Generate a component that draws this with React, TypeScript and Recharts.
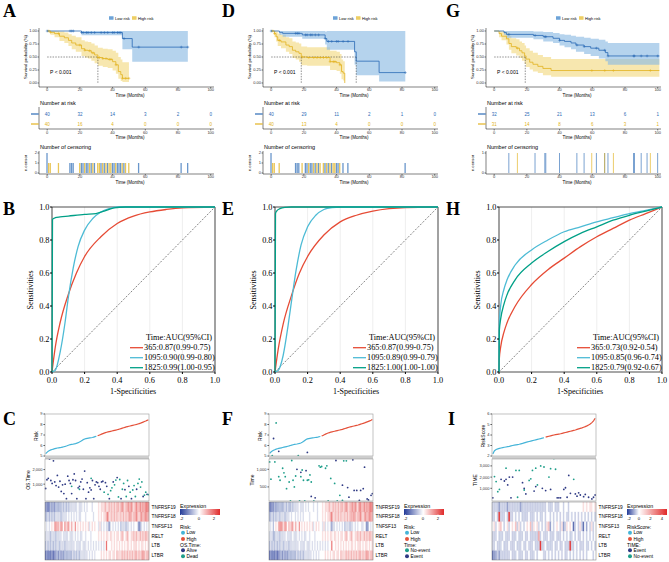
import React from "react";
import {
  ComposedChart, BarChart, Line, Area, Bar, Scatter, Cell, XAxis, YAxis,
  CartesianGrid, ReferenceLine, ReferenceArea,
} from "recharts";

const SANS = "Liberation Sans, Arial, sans-serif";
const SERIF = "Liberation Serif, Times New Roman, serif";

const BLUE = "#2a6ab5";
const BLUE_FILL = "#8dbbe4";
const GOLD = "#e2b320";
const GOLD_FILL = "#f2da84";
const RED = "#E64B35";
const CYAN = "#4DBBD5";
const TEAL = "#00A087";
const R_CYAN = "#45b4d8";
const R_RED = "#e4513a";
const NAVY = "#2f3a84";
const SEA = "#1e9e8a";

// ---------- KM curves: [months, survival], CI: [months, lower, upper]
const TIME_TICKS = [0, 20, 40, 60, 80, 100];

const A_LOW = [[0, 1], [21, 0.97], [46, 0.855], [52, 0.69], [86, 0.69]];
const A_LOW_CI = [[0, 1, 1], [21, 0.92, 1], [46, 0.65, 1], [52, 0.41, 1], [86, 0.41, 1]];
const A_HIGH = [[0, 1], [2, 0.975], [4.5, 0.95], [7.5, 0.9], [10.5, 0.87], [13, 0.82], [15, 0.77], [17.5, 0.73], [21, 0.66], [23, 0.63], [25, 0.62], [27, 0.58], [29, 0.54], [31, 0.49], [34, 0.47], [37, 0.455], [40, 0.41], [42, 0.35], [43.5, 0.22], [45, 0.16], [46, 0.09], [50, 0.09]];
const A_HIGH_CI = [[0, 1, 1], [2, 0.93, 1], [4.5, 0.88, 1], [7.5, 0.81, 0.99], [10.5, 0.77, 0.97], [13, 0.71, 0.94], [15, 0.65, 0.91], [17.5, 0.6, 0.88], [21, 0.52, 0.82], [23, 0.49, 0.8], [25, 0.47, 0.79], [27, 0.43, 0.76], [29, 0.38, 0.72], [31, 0.33, 0.68], [34, 0.31, 0.66], [37, 0.29, 0.65], [40, 0.24, 0.62], [42, 0.18, 0.58], [43.5, 0.08, 0.5], [45, 0.04, 0.45], [46, 0.02, 0.4], [50, 0.02, 0.4]];
const A_CENS_LOW = [[0, 2], [14, 1], [15, 1], [16, 1], [21, 1], [22, 1], [24, 1], [25, 1], [27, 1], [29, 1], [33, 1], [35, 1], [37, 1], [40, 1], [41, 1], [43, 1], [44, 1], [45, 1], [47, 1], [56, 1], [82, 1], [86, 1]];
const A_CENS_HIGH = [[1, 1], [2, 1], [7, 1], [20, 1], [23, 1], [26, 1], [28, 1], [31, 1], [32, 1], [34, 1], [36, 1], [38, 1], [39, 1], [42, 1], [46, 1], [48, 1], [50, 1]];
const A_RISK_LOW = [40, 32, 14, 3, 2, 0];
const A_RISK_HIGH = [40, 16, 4, 0, 0, 0];
const A_MED = [31];

const D_LOW = [[0, 1], [5, 0.975], [7, 0.955], [19, 0.925], [33, 0.855], [34, 0.8], [51, 0.6], [52, 0.42], [66, 0.2], [82, 0.2]];
const D_LOW_CI = [[0, 1, 1], [5, 0.93, 1], [7, 0.89, 1], [19, 0.85, 1], [33, 0.74, 0.99], [34, 0.64, 1], [51, 0.35, 1], [52, 0.15, 1], [66, 0.03, 1], [82, 0.03, 1]];
const D_HIGH = [[0, 1], [2, 0.95], [3, 0.89], [4, 0.82], [6, 0.79], [9, 0.73], [11, 0.7], [13, 0.63], [15, 0.6], [17, 0.57], [18.4, 0.5], [22, 0.49], [36, 0.41], [40, 0.39], [42, 0.35], [43, 0.22], [44, 0.19], [45, 0]];
const D_HIGH_CI = [[0, 1, 1], [2, 0.88, 1], [3, 0.8, 0.99], [4, 0.71, 0.95], [6, 0.67, 0.93], [9, 0.6, 0.88], [11, 0.56, 0.86], [13, 0.48, 0.8], [15, 0.45, 0.78], [17, 0.41, 0.76], [18.4, 0.34, 0.7], [22, 0.33, 0.69], [36, 0.25, 0.62], [40, 0.23, 0.6], [42, 0.18, 0.56], [43, 0.07, 0.45], [44, 0.05, 0.42], [45, 0, 0.42]];
const D_CENS_LOW = [[0, 2], [15, 1], [16, 1], [17, 1], [21, 1], [22, 1], [24, 1], [25, 1], [27, 1], [29, 1], [33, 1], [35, 1], [37, 1], [40, 1], [41, 1], [44, 1], [47, 1], [82, 1]];
const D_CENS_HIGH = [[1, 1], [2, 1], [5, 1], [19, 1], [23, 1], [26, 1], [28, 1], [30, 1], [32, 1], [34, 1], [36, 1], [38, 1], [39, 1], [42, 1]];
const D_RISK_LOW = [40, 29, 11, 2, 1, 0];
const D_RISK_HIGH = [40, 13, 4, 0, 0, 0];
const D_MED = [18.4, 52];

const G_LOW = [[0, 1], [6, 0.97], [7.5, 0.935], [24, 0.915], [30, 0.89], [36, 0.86], [40, 0.82], [43, 0.8], [47, 0.77], [50, 0.73], [55, 0.7], [59, 0.67], [64, 0.63], [68, 0.585], [69.5, 0.52], [101, 0.52]];
const G_LOW_CI = [[0, 1, 1], [6, 0.93, 1], [7.5, 0.87, 1], [24, 0.84, 0.99], [30, 0.8, 0.98], [36, 0.77, 0.96], [40, 0.72, 0.94], [43, 0.69, 0.93], [47, 0.65, 0.91], [50, 0.6, 0.89], [55, 0.56, 0.87], [59, 0.52, 0.85], [64, 0.47, 0.83], [68, 0.42, 0.8], [69.5, 0.35, 0.77], [101, 0.35, 0.77]];
const G_HIGH = [[0, 1], [3, 0.95], [4.5, 0.9], [7.5, 0.85], [9, 0.76], [10.5, 0.7], [13.5, 0.67], [15.5, 0.62], [17, 0.58], [18.6, 0.52], [19.5, 0.46], [21.7, 0.4], [23.7, 0.36], [26.7, 0.32], [29.8, 0.28], [34.8, 0.24], [101, 0.24]];
const G_HIGH_CI = [[0, 1, 1], [3, 0.88, 1], [4.5, 0.82, 0.99], [7.5, 0.74, 0.97], [9, 0.64, 0.91], [10.5, 0.57, 0.86], [13.5, 0.53, 0.84], [15.5, 0.48, 0.8], [17, 0.43, 0.77], [18.6, 0.37, 0.72], [19.5, 0.31, 0.67], [21.7, 0.26, 0.62], [23.7, 0.22, 0.58], [26.7, 0.19, 0.54], [29.8, 0.15, 0.5], [34.8, 0.12, 0.46], [101, 0.12, 0.46]];
const G_CENS_LOW = [[9, 1], [25, 1], [31, 1], [31.6, 1], [40, 1], [50.6, 1], [55, 1], [62.5, 1], [67.6, 1], [69.6, 1], [85.2, 1], [85.8, 1], [89.9, 1], [93.5, 1], [100, 1]];
const G_CENS_HIGH = [[14.2, 1], [59.7, 1], [67.6, 1], [72.9, 1], [95.5, 1]];
const G_RISK_LOW = [32, 25, 21, 13, 6, 1];
const G_RISK_HIGH = [31, 14, 8, 6, 3, 1];
const G_MED = [19];

// ---------- ROC curves: [1-specificity, sensitivity]
const B_365 = [[0, 0], [0.02, 0.15], [0.05, 0.3], [0.1, 0.47], [0.15, 0.6], [0.2, 0.7], [0.3, 0.82], [0.4, 0.9], [0.5, 0.945], [0.6, 0.97], [0.7, 0.985], [0.8, 0.995], [1, 1]];
const B_1095 = [[0, 0], [0.02, 0.01], [0.05, 0.12], [0.08, 0.3], [0.1, 0.45], [0.13, 0.63], [0.16, 0.76], [0.2, 0.86], [0.25, 0.93], [0.3, 0.97], [0.35, 0.99], [0.4, 1], [1, 1]];
const B_1825 = [[0, 0], [0.003, 0.925], [0.02, 0.935], [0.05, 0.94], [0.1, 0.945], [0.2, 0.955], [0.27, 0.96], [0.32, 0.975], [0.38, 0.995], [0.45, 1], [1, 1]];
const E_365 = [[0, 0], [0.02, 0.14], [0.05, 0.29], [0.1, 0.46], [0.15, 0.6], [0.2, 0.7], [0.3, 0.83], [0.4, 0.91], [0.5, 0.95], [0.6, 0.975], [0.7, 0.99], [0.8, 0.997], [1, 1]];
const E_1095 = [[0, 0], [0.02, 0.01], [0.05, 0.1], [0.08, 0.28], [0.1, 0.42], [0.13, 0.62], [0.16, 0.77], [0.2, 0.88], [0.25, 0.95], [0.3, 0.985], [0.35, 0.997], [0.4, 1], [1, 1]];
const E_1825 = [[0, 0], [0.003, 0.96], [0.01, 0.975], [0.03, 0.99], [0.06, 0.998], [0.1, 1], [1, 1]];
const H_365 = [[0, 0], [0.002, 0.08], [0.01, 0.15], [0.03, 0.24], [0.05, 0.3], [0.1, 0.4], [0.2, 0.53], [0.3, 0.62], [0.4, 0.69], [0.5, 0.76], [0.6, 0.82], [0.7, 0.87], [0.8, 0.92], [0.9, 0.96], [1, 1]];
const H_1095 = [[0, 0], [0.002, 0.3], [0.01, 0.4], [0.03, 0.5], [0.05, 0.56], [0.1, 0.65], [0.2, 0.74], [0.3, 0.8], [0.4, 0.85], [0.5, 0.88], [0.6, 0.91], [0.7, 0.935], [0.8, 0.96], [0.9, 0.98], [1, 1]];
const H_1825 = [[0, 0], [0.002, 0.25], [0.01, 0.32], [0.03, 0.41], [0.05, 0.47], [0.1, 0.56], [0.2, 0.66], [0.3, 0.73], [0.4, 0.79], [0.5, 0.84], [0.6, 0.88], [0.7, 0.92], [0.8, 0.95], [0.9, 0.975], [1, 1]];
const B_LEGEND = ["365:0.87(0.99-0.75)", "1095:0.90(0.99-0.80)", "1825:0.99(1.00-0.95)"];
const E_LEGEND = ["365:0.87(0.99-0.75)", "1095:0.89(0.99-0.79)", "1825:1.00(1.00-1.00)"];
const H_LEGEND = ["365:0.73(0.92-0.54)", "1095:0.85(0.96-0.74)", "1825:0.79(0.92-0.67)"];

// ---------- risk score (sorted), survival time points [sample index, time]
const C_RISK_LOW = [5.22, 5.35, 5.45, 5.52, 5.58, 5.62, 5.66, 5.7, 5.73, 5.76, 5.78, 5.8, 5.82, 5.85, 5.88, 5.91, 5.95, 6.0, 6.05, 6.08, 6.1, 6.12, 6.15, 6.18, 6.22, 6.27, 6.33, 6.4, 6.48, 6.56, 6.62, 6.66, 6.68, 6.7, 6.72, 6.74, 6.76, 6.8, 6.84, 6.88];
const C_RISK_HIGH = [6.93, 6.98, 7.03, 7.08, 7.13, 7.18, 7.22, 7.26, 7.29, 7.32, 7.35, 7.38, 7.41, 7.44, 7.47, 7.5, 7.53, 7.57, 7.61, 7.65, 7.69, 7.73, 7.77, 7.8, 7.83, 7.86, 7.89, 7.92, 7.95, 7.98, 8.01, 8.05, 8.09, 8.13, 8.18, 8.23, 8.28, 8.33, 8.39, 8.46];
const C_ALIVE = [[0, 700], [1, 1300], [2, 1400], [3, 2730], [4, 1250], [5, 1050], [6, 2600], [7, 1150], [8, 900], [9, 1600], [10, 800], [11, 1200], [12, 500], [13, 950], [14, 350], [15, 1000], [16, 0], [17, 1550], [18, 1250], [19, 1050], [20, 350], [21, 1300], [22, 1700], [23, 1250], [24, 0], [25, 750], [26, 850], [27, 1150], [28, 1350], [29, 650], [30, 1900], [31, 0], [32, 1100], [33, 450], [34, 750], [35, 600], [36, 1250], [37, 0], [38, 950], [39, 1150], [40, 1100], [41, 850], [42, 650], [43, 1150], [44, 1200], [46, 1100], [47, 850], [49, 0], [52, 1150], [55, 1450], [58, 0], [61, 620], [64, 850], [66, 0], [70, 650], [75, 150], [78, 300]];
const C_DEAD = [[20, 850], [26, 650], [35, 1400], [45, 450], [48, 300], [50, 550], [51, 750], [53, 950], [54, 1280], [56, 120], [57, 1320], [59, 650], [60, 1050], [62, 150], [63, 1250], [65, 450], [67, 600], [68, 900], [69, 150], [71, 1050], [72, 1350], [73, 800], [74, 1150], [76, 250], [77, 450], [79, 280]];

const F_RISK_LOW = [5.25, 5.38, 5.47, 5.54, 5.6, 5.65, 5.69, 5.72, 5.75, 5.78, 5.81, 5.84, 5.87, 5.9, 5.93, 5.96, 6.0, 6.04, 6.07, 6.1, 6.12, 6.14, 6.17, 6.2, 6.24, 6.3, 6.38, 6.48, 6.58, 6.63, 6.66, 6.68, 6.7, 6.72, 6.74, 6.76, 6.78, 6.8, 6.83, 6.86];
const F_RISK_HIGH = [6.9, 6.96, 7.02, 7.08, 7.14, 7.19, 7.23, 7.27, 7.3, 7.33, 7.36, 7.39, 7.42, 7.45, 7.48, 7.51, 7.54, 7.58, 7.62, 7.66, 7.7, 7.74, 7.77, 7.8, 7.83, 7.86, 7.89, 7.92, 7.95, 7.99, 8.03, 8.07, 8.11, 8.15, 8.2, 8.25, 8.3, 8.35, 8.4, 8.47];
const F_NOEVENT = [[0, 1210], [1, 720], [2, 1385], [4, 1210], [5, 2317], [7, 790], [8, 690], [10, 1030], [11, 900], [12, 790], [13, 450], [15, 640], [16, 100], [17, 1250], [18, 690], [19, 500], [20, 810], [22, 1385], [23, 100], [24, 790], [25, 980], [26, 690], [27, 100], [29, 690], [30, 700], [31, 840], [32, 640], [34, 100], [38, 1100], [39, 1060], [40, 1080], [43, 1030], [44, 1100], [45, 100], [47, 740], [50, 600], [52, 100], [54, 260], [56, 115], [57, 1240], [59, 1240]];
const F_EVENT = [[3, 1875], [7, 1510], [21, 1000], [24, 915], [28, 960], [29, 1480], [32, 230], [35, 190], [51, 1250], [56, 550], [60, 480], [61, 210], [64, 1270], [65, 400], [67, 400], [69, 115], [70, 400], [71, 1320], [72, 450], [73, 1060], [75, 160], [76, 130], [78, 260], [79, 310]];

const I_RISK_LOW = [2.2, 2.5, 2.62, 2.68, 2.72, 2.76, 2.8, 2.83, 2.86, 2.89, 2.92, 2.96, 3.0, 3.03, 3.06, 3.09, 3.12, 3.16, 3.2, 3.25, 3.3, 3.34, 3.38, 3.42, 3.46, 3.5, 3.54, 3.58, 3.62, 3.66, 3.7, 3.74];
const I_RISK_HIGH = [3.8, 3.84, 3.88, 3.92, 3.96, 4.0, 4.03, 4.06, 4.09, 4.12, 4.16, 4.2, 4.24, 4.28, 4.32, 4.36, 4.4, 4.44, 4.48, 4.53, 4.58, 4.63, 4.68, 4.74, 4.8, 4.87, 4.95, 5.05, 5.18, 5.35, 5.6];
const I_EVENT = [[0, 150], [5, 1800], [7, 1650], [8, 1800], [9, 1300], [10, 2000], [11, 150], [12, 2000], [18, 1500], [19, 1000], [20, 500], [25, 750], [26, 1150], [30, 1000], [32, 800], [35, 900], [39, 150], [40, 150], [41, 150], [43, 900], [44, 1050], [45, 200], [46, 2150], [47, 550], [50, 500], [51, 300], [52, 600], [53, 400], [55, 250], [56, 450], [58, 200], [60, 50], [61, 200], [62, 400]];
const I_NOEVENT = [[1, 2050], [2, 1600], [3, 700], [4, 900], [8, 2800], [14, 2600], [15, 200], [16, 2600], [19, 850], [22, 1700], [23, 1850], [24, 2600], [26, 2800], [27, 1300], [29, 3000], [31, 2900], [34, 2000], [35, 2750], [37, 3650], [38, 2700], [49, 1800]];

// ---------- heatmaps, one digit per sample (top gene first)
const GENES = ["TNFRSF19", "TNFRSF18", "TNFSF13", "RELT", "LTB", "LTBR"];
const C_HEAT = [
  ["1101212122", "2223232323", "3333343334", "3434443444", "4545556556", "5656566567", "6566767656", "7667676787"],
  ["2232323233", "3323333434", "3434343344", "4344444344", "4545455685", "5656565565", "6565676566", "7656766776"],
  ["4343454676", "6576475674", "6547454545", "4545345454", "4353434331", "3434343423", "3323343434", "4302343434"],
  ["3333233323", "3334333343", "3343434334", "4344434444", "4545454554", "5545455456", "5456545565", "6556565665"],
  ["2323232323", "3233323333", "3334333343", "3343434343", "4343434844", "4545454545", "4545545455", "5454554545"],
  ["0101010112", "1212122222", "2323232333", "3334343434", "4445454545", "5455465556", "5656565656", "6565676566"],
];
const F_HEAT = [
  ["1011212222", "2232322323", "3334333434", "3444344344", "4545556556", "5656566567", "6566767657", "7667676787"],
  ["2232323323", "3323334344", "3434343444", "4344444344", "4545455685", "5656565565", "6566676566", "7656766776"],
  ["4342454677", "6576465674", "6547454545", "4545345454", "4353434313", "3434343423", "3323343434", "4334302434"],
  ["3332233323", "3334333343", "3343434334", "4344434444", "4545454554", "5545455456", "5456545565", "6556565665"],
  ["2323232323", "3233323333", "3334333343", "3343434343", "4343434484", "4545454545", "4545545455", "5454554545"],
  ["0101010112", "1212122222", "2323232333", "3334343434", "4445454545", "5455465556", "5656565656", "6565676566"],
];
const I_HEAT = [
  ["2222122221", "2222222122", "2222222222", "2223222322", "2332332333", "3333343434", "434"],
  ["2232922232", "9223232322", "2232223232", "2323323232", "3232322323", "2323232323", "232"],
  ["3423453234", "2343524232", "3435243423", "2324513234", "3241243430", "2324203132", "423"],
  ["2223222322", "2322232223", "2232222262", "3222322232", "2232323223", "2322323232", "323"],
  ["2232223222", "3222322232", "2322232229", "2232222322", "3223222922", "3232223223", "232"],
  ["0112122222", "2322232223", "2232223233", "3223232323", "2323223232", "3232323233", "323"],
];

// ---------- helpers
const HB = [35, 58, 151];
const HR = [224, 42, 42];
function mix(c: number[], t: number) {
  const k = Math.max(0, Math.min(1, t));
  const ch = c.map((v) => Math.round(255 + (v - 255) * k));
  return `rgb(${ch[0]},${ch[1]},${ch[2]})`;
}
function heatColor(v: number, max: number) {
  return v < 0 ? mix(HB, -v / 2.8) : mix(HR, v / max);
}
function survAt(curve: number[][], t: number) {
  let s = 1;
  for (const [tt, ss] of curve) if (tt <= t) s = ss;
  return s;
}

const TICK_S = { fontSize: 4, fill: "#333", fontFamily: SANS };
const TICK_R = { fontSize: 8.3, fill: "#000", fontFamily: SERIF };

const plus = (color: string) => (p: any) => (
  <path d={`M${p.cx - 1.4},${p.cy}h2.8M${p.cx},${p.cy - 1.4}v2.8`} stroke={color} strokeWidth={0.5} />
);
const dot = (color: string) => (p: any) => <circle cx={p.cx} cy={p.cy} r={0.9} fill={color} />;

function KMPanel({ dx, low, high, lowCi, highCi, lowCens, highCens, med }: any) {
  const yw = 16, xh = 8, pw = 175, ph = 59, mt = 3, mr = 6;
  const lowLine = low.map(([t, s]: number[]) => ({ t, s }));
  const highLine = high.map(([t, s]: number[]) => ({ t, s }));
  const lowBand = lowCi.map(([t, lo, hi]: number[]) => ({ t, ci: [lo, hi] }));
  const highBand = highCi.map(([t, lo, hi]: number[]) => ({ t, ci: [lo, hi] }));
  const lowMarks = lowCens.map(([t]: number[]) => ({ t, s: survAt(low, t) }));
  const highMarks = highCens.map(([t]: number[]) => ({ t, s: survAt(high, t) }));
  const mMax = Math.max(...med);
  return (
    <div style={{ position: "absolute", left: 39 + dx - yw, top: 28 - mt }}>
      <ComposedChart width={yw + pw + mr} height={mt + ph + xh} margin={{ top: mt, right: mr, bottom: 0, left: 0 }}>
        <XAxis type="number" dataKey="t" domain={[-5, 102]} ticks={TIME_TICKS} interval={0} allowDataOverflow
          tick={TICK_S} tickSize={1.5} tickMargin={0} height={xh} stroke="#000" strokeWidth={0.5} />
        <YAxis type="number" dataKey="s" domain={[-0.077, 1.058]} ticks={[0, 0.25, 0.5, 0.75, 1]} interval={0} allowDataOverflow
          tickFormatter={(v) => v.toFixed(2)} tick={TICK_S} tickSize={1.5} tickMargin={0.5} width={yw} stroke="#000" strokeWidth={0.5} />
        <Area data={highBand} dataKey="ci" type="stepAfter" fill={GOLD_FILL} fillOpacity={0.65} stroke="none" isAnimationActive={false} />
        <Area data={lowBand} dataKey="ci" type="stepAfter" fill={BLUE_FILL} fillOpacity={0.65} stroke="none" isAnimationActive={false} />
        <ReferenceLine segment={[{ x: 0, y: 0.5 }, { x: mMax, y: 0.5 }]} stroke="#222" strokeWidth={0.5} strokeDasharray="1.5 1.2" />
        {med.map((m: number) => (
          <ReferenceLine key={m} segment={[{ x: m, y: 0.5 }, { x: m, y: 0 }]} stroke="#222" strokeWidth={0.5} strokeDasharray="1.5 1.2" />
        ))}
        <Line data={highLine} dataKey="s" type="stepAfter" stroke={GOLD} strokeWidth={0.8} dot={false} isAnimationActive={false} />
        <Line data={lowLine} dataKey="s" type="stepAfter" stroke={BLUE} strokeWidth={0.8} dot={false} isAnimationActive={false} />
        <Scatter data={highMarks} dataKey="s" shape={plus(GOLD)} isAnimationActive={false} />
        <Scatter data={lowMarks} dataKey="s" shape={plus(BLUE)} isAnimationActive={false} />
      </ComposedChart>
    </div>
  );
}

function RiskTable({ dx, low, high }: any) {
  const yw = 16, xh = 8, pw = 175, ph = 22, mt = 1, mr = 6;
  const rows = [
    ...TIME_TICKS.map((t, k) => ({ t, row: 2, n: low[k], c: BLUE })),
    ...TIME_TICKS.map((t, k) => ({ t, row: 1, n: high[k], c: GOLD })),
  ];
  const riskTick = (p: any) => (
    <line x1={p.x - 8} x2={p.x - 0.3} y1={p.y} y2={p.y} stroke={p.payload.value === 2 ? BLUE : GOLD} strokeWidth={1.2} />
  );
  return (
    <div style={{ position: "absolute", left: 39 + dx - yw, top: 107 - mt }}>
      <ComposedChart width={yw + pw + mr} height={mt + ph + xh} margin={{ top: mt, right: mr, bottom: 0, left: 0 }}>
        <XAxis type="number" dataKey="t" domain={[-5, 102]} ticks={TIME_TICKS} interval={0} allowDataOverflow
          tick={TICK_S} tickSize={1.5} tickMargin={1} height={xh} stroke="#000" strokeWidth={0.5} />
        <YAxis type="number" dataKey="row" domain={[0.5, 2.7]} ticks={[1, 2]} interval={0} allowDataOverflow
          tick={riskTick} tickLine={false} tickSize={0} tickMargin={0} width={yw} stroke="#000" strokeWidth={0.5} />
        <Scatter data={rows} isAnimationActive={false}
          shape={(p: any) => (
            <text x={p.cx} y={p.cy} dy={1.5} textAnchor="middle" fontSize={4.5} fontFamily={SANS} fill={p.payload.c}>{p.payload.n}</text>
          )} />
      </ComposedChart>
    </div>
  );
}

function CensorPlot({ dx, low, high, yMax }: any) {
  const yw = 16, xh = 8, pw = 175, ph = 23, mt = 1, mr = 6;
  const merged = [
    ...low.map(([t, n]: number[]) => ({ t, low: n })),
    ...high.map(([t, n]: number[]) => ({ t, high: n })),
  ].sort((a, b) => a.t - b.t);
  const ticks = yMax === 2 ? [0, 1, 2] : [0, 1];
  const dom = yMax === 2 ? [-0.1, 2.2] : [-0.05, 1.1];
  return (
    <div style={{ position: "absolute", left: 39 + dx - yw, top: 151 - mt }}>
      <ComposedChart width={yw + pw + mr} height={mt + ph + xh} data={merged} margin={{ top: mt, right: mr, bottom: 0, left: 0 }}>
        <XAxis type="number" dataKey="t" domain={[-5, 102]} ticks={TIME_TICKS} interval={0} allowDataOverflow
          tick={TICK_S} tickSize={1.5} tickMargin={0} height={xh} stroke="#000" strokeWidth={0.5} />
        <YAxis type="number" domain={dom} ticks={ticks} interval={0} allowDataOverflow
          tick={TICK_S} tickSize={1.5} tickMargin={0.5} width={yw} stroke="#000" strokeWidth={0.5} />
        <Bar dataKey="low" stackId="c" barSize={1.3} fill={BLUE} fillOpacity={0.7} isAnimationActive={false} />
        <Bar dataKey="high" stackId="c" barSize={1.3} fill={GOLD} fillOpacity={0.75} isAnimationActive={false} />
      </ComposedChart>
    </div>
  );
}

function ROCPanel({ dx, r1, r2, r3 }: any) {
  const yw = 22, xh = 16, mt = 5, mr = 8, pw = 163, ph = 165;
  const toPts = (a: number[][]) => a.map(([x, y]) => ({ x, y }));
  return (
    <div style={{ position: "absolute", left: 52 + dx - yw, top: 207 - mt }}>
      <ComposedChart width={yw + pw + mr} height={mt + ph + xh} margin={{ top: mt, right: mr, bottom: 0, left: 0 }}>
        <CartesianGrid horizontal={false} stroke="#e2e2e2" strokeWidth={0.6} />
        <XAxis type="number" dataKey="x" domain={[0, 1]} ticks={[0, 0.2, 0.4, 0.6, 0.8, 1]} interval={0}
          tickFormatter={(v) => v.toFixed(1)} tick={TICK_R} tickSize={2} tickMargin={3} height={xh} axisLine={false} stroke="#000" />
        <YAxis type="number" dataKey="y" domain={[0, 1]} ticks={[0, 0.2, 0.4, 0.6, 0.8, 1]} interval={0}
          tickFormatter={(v) => v.toFixed(1)} tick={TICK_R} tickSize={2} tickMargin={0.5} width={yw} axisLine={false} stroke="#000" />
        <ReferenceLine segment={[{ x: 0, y: 0 }, { x: 1, y: 1 }]} stroke="#333" strokeWidth={0.6} strokeDasharray="2 1.5" />
        <Line data={toPts(r1)} dataKey="y" type="monotone" stroke={RED} strokeWidth={1.3} dot={false} isAnimationActive={false} />
        <Line data={toPts(r2)} dataKey="y" type="monotone" stroke={CYAN} strokeWidth={1.3} dot={false} isAnimationActive={false} />
        <Line data={toPts(r3)} dataKey="y" type="monotone" stroke={TEAL} strokeWidth={1.3} dot={false} isAnimationActive={false} />
        <ReferenceArea x1={0} x2={1} y1={0} y2={1} fill="none" stroke="#222" strokeWidth={0.8} ifOverflow="visible" />
      </ComposedChart>
    </div>
  );
}

function RiskPlots({ bl, low, high, rDom, rTicks, tDom, tTicks, navy, teal, heat, heatMax, heatZero }: any) {
  const n = low.length + high.length;
  const yw = 16, pw = 104;
  const lowPts = low.map((r: number, i: number) => ({ i, r }));
  const highPts = high.map((r: number, k: number) => ({ i: low.length + k, r }));
  const navyPts = navy.map(([i, v]: number[]) => ({ i, v }));
  const tealPts = teal.map(([i, v]: number[]) => ({ i, v }));
  const rows = heat.map((g: string[]) => g.join("").split("").map(Number));
  const cols = Array.from({ length: n }, (_, i) => ({ i, g0: 1, g1: 1, g2: 1, g3: 1, g4: 1, g5: 1 }));
  const decode = (d: number) => (d - heatZero) * (2 / (heatZero === 4 ? 4 : 3));
  const bw = pw / n;
  return (
    <>
      <div style={{ position: "absolute", left: bl - yw, top: 411 }}>
        <ComposedChart width={yw + pw} height={48} margin={{ top: 3, right: 0, bottom: 3, left: 0 }}>
          <XAxis type="number" dataKey="i" domain={[-0.5, n - 0.5]} hide />
          <YAxis type="number" dataKey="r" domain={rDom} ticks={rTicks} interval={0} tick={TICK_S} tickSize={1.5}
            tickMargin={1} width={yw} axisLine={false} stroke="#444" />
          <Line data={lowPts} dataKey="r" stroke={R_CYAN} strokeWidth={1.2} dot={false} isAnimationActive={false} />
          <Line data={highPts} dataKey="r" stroke={R_RED} strokeWidth={1.2} dot={false} isAnimationActive={false} />
        </ComposedChart>
      </div>
      <div style={{ position: "absolute", left: bl - yw, top: 414 }}>
        <ComposedChart width={yw + pw} height={87} margin={{ top: 0, right: 0, bottom: 0, left: 0 }}>
          <XAxis type="number" dataKey="i" domain={[-0.5, n - 0.5]} hide />
          <YAxis type="number" dataKey="v" domain={tDom} ticks={tTicks} interval={0} tick={TICK_S} tickSize={1.5}
            tickMargin={1} width={yw} axisLine={false} stroke="#444" tickFormatter={(v) => v.toLocaleString("en-US")} />
          <Scatter data={navyPts} dataKey="v" shape={dot(NAVY)} isAnimationActive={false} />
          <Scatter data={tealPts} dataKey="v" shape={dot(SEA)} isAnimationActive={false} />
        </ComposedChart>
      </div>
      <div style={{ position: "absolute", left: bl, top: 502 }}>
        <BarChart width={pw + 36} height={58} data={cols} margin={{ top: 0, right: 0, bottom: 0, left: 0 }} barCategoryGap={0} barGap={0}>
          <XAxis dataKey="i" hide />
          <YAxis orientation="right" type="number" domain={[0, 6]} ticks={[0.5, 1.5, 2.5, 3.5, 4.5, 5.5]} interval={0}
            tickFormatter={(v) => GENES[5 - Math.floor(v)]} tick={{ fontSize: 4.8, fill: "#000", fontFamily: SANS }}
            tickSize={0} tickMargin={2.5} width={36} axisLine={false} tickLine={false} />
          {[5, 4, 3, 2, 1, 0].map((g, k) => (
            <Bar key={g} dataKey={"g" + k} stackId="h" barSize={bw} isAnimationActive={false}>
              {cols.map((c) => {
                const col = heatColor(decode(rows[g][c.i]), heatMax);
                return <Cell key={c.i} fill={col} stroke={col} strokeWidth={0.35} />;
              })}
            </Bar>
          ))}
        </BarChart>
      </div>
    </>
  );
}

function T({ x, y, s, children, a = "start", f = SANS, w = 400, rot = false, fill = "#000" }: any) {
  return (
    <text x={x} y={y} fontSize={s} fontFamily={f} fontWeight={w} textAnchor={a} fill={fill}
      dominantBaseline="central" transform={rot ? `rotate(-90 ${x} ${y})` : undefined}>{children}</text>
  );
}

function Overlay() {
  const top = [0, 224, 447];
  const roc = [0, 223, 447];
  const legends = [B_LEGEND, E_LEGEND, H_LEGEND];
  const bots = [
    { bl: 45, r: "Risk", t: "OS.Time", rk: "Risk:", tk: "OS.Time:", items: [["Alive", NAVY], ["Dead", SEA]], ticks: [["-2", 1.5], ["0", 19], ["2", 34]], gz: 0.48 },
    { bl: 269, r: "Risk", t: "Time", rk: "Risk:", tk: "Time:", items: [["No-event", SEA], ["Event", NAVY]], ticks: [["-2", 1.5], ["0", 19], ["2", 34]], gz: 0.48 },
    { bl: 492, r: "RiskScore", t: "TIME", rk: "RiskScore:", tk: "TIME:", items: [["Event", NAVY], ["No-event", SEA]], ticks: [["-2", 2], ["0", 12], ["2", 23.5], ["4", 35]], gz: 0.3 },
  ];
  const letters = [["A", 3, 17], ["B", 3, 215], ["C", 3, 425], ["D", 222, 17], ["E", 222, 215], ["F", 222, 425], ["G", 446, 17], ["H", 446, 215], ["I", 448, 425]];
  return (
    <svg width={669} height={562} style={{ position: "absolute", left: 0, top: 0, pointerEvents: "none" }}>
      <defs>
        <linearGradient id="g48" x1="0" x2="1" y1="0" y2="0">
          <stop offset="0" stopColor="rgb(35,58,151)" />
          <stop offset="0.48" stopColor="#fff" />
          <stop offset="1" stopColor="rgb(224,42,42)" />
        </linearGradient>
        <linearGradient id="g30" x1="0" x2="1" y1="0" y2="0">
          <stop offset="0" stopColor="rgb(35,58,151)" />
          <stop offset="0.3" stopColor="#fff" />
          <stop offset="1" stopColor="rgb(224,42,42)" />
        </linearGradient>
      </defs>
      {letters.map(([l, x, y]: any) => (
        <text key={l} x={x} y={y} fontSize={18} fontWeight={700} fontFamily={SERIF}>{l}</text>
      ))}
      {top.map((dx) => (
        <g key={dx}>
          <rect x={109 + dx} y={16} width={4.5} height={4} fill={BLUE_FILL} />
          <line x1={109 + dx} x2={113.5 + dx} y1={18} y2={18} stroke={BLUE} strokeWidth={0.6} />
          <T x={115 + dx} y={18} s={4}>Low risk</T>
          <rect x={132 + dx} y={16} width={4.5} height={4} fill={GOLD_FILL} />
          <line x1={132 + dx} x2={136.5 + dx} y1={18} y2={18} stroke={GOLD} strokeWidth={0.6} />
          <T x={138 + dx} y={18} s={4}>High risk</T>
          <T x={130 + dx} y={95} s={4.5} a="middle">Time (Months)</T>
          <T x={25 + dx} y={57} s={4.3} a="middle" rot>Survival probability (%)</T>
          <T x={50 + dx} y={72} s={5}>P &lt; 0.001</T>
          <T x={40 + dx} y={103.3} s={5.5}>Number at risk</T>
          <T x={130 + dx} y={137.5} s={4.5} a="middle">Time (Months)</T>
          <T x={40 + dx} y={146.7} s={5.5}>Number of censoring</T>
          <T x={25 + dx} y={163} s={4.3} a="middle" rot>n.censor</T>
          <T x={130 + dx} y={182} s={4.5} a="middle">Time (Months)</T>
        </g>
      ))}
      {roc.map((dx, k) => (
        <g key={dx}>
          <T x={30 + dx} y={290} s={8} f={SERIF} a="middle" rot>Sensitivities</T>
          <T x={133 + dx} y={391} s={8} f={SERIF} a="middle">1-Specificities</T>
          <T x={179 + dx} y={337.7} s={8.3} f={SERIF} a="middle">Time:AUC(95%CI)</T>
          {[RED, CYAN, TEAL].map((c, j) => (
            <g key={c}>
              <line x1={130 + dx} x2={143 + dx} y1={347.7 + j * 10} y2={347.7 + j * 10} stroke={c} strokeWidth={1.3} />
              <T x={144 + dx} y={347.7 + j * 10} s={8.3} f={SERIF}>{legends[k][j]}</T>
            </g>
          ))}
        </g>
      ))}
      {bots.map((b) => {
        const lx = b.bl + 135;
        return (
          <g key={b.bl}>
            <rect x={b.bl} y={414} width={104} height={42} fill="none" stroke="#9a9a9a" strokeWidth={0.6} />
            <rect x={b.bl} y={456} width={104} height={3} fill="#cdcdcd" />
            <rect x={b.bl} y={459} width={104} height={42} fill="none" stroke="#9a9a9a" strokeWidth={0.6} />
            <rect x={b.bl} y={502} width={104} height={58} fill="none" stroke="#777" strokeWidth={0.5} />
            <T x={b.bl - 9.5} y={436} s={5} a="middle" rot>{b.r}</T>
            <T x={b.bl - 17} y={480} s={5} a="middle" rot>{b.t}</T>
            <T x={lx} y={506} s={5.3}>Expression</T>
            <rect x={lx} y={509} width={40} height={6} fill={b.gz === 0.3 ? "url(#g30)" : "url(#g48)"} />
            {b.ticks.map(([l, o]: any) => (
              <g key={l}>
                <line x1={lx + o} x2={lx + o} y1={514} y2={515} stroke="#fff" strokeWidth={0.4} />
                <T x={lx + o} y={518} s={4.2} a="middle">{l}</T>
              </g>
            ))}
            <T x={lx} y={526.7} s={5}>{b.rk}</T>
            <circle cx={lx + 3} cy={532.7} r={2} fill={R_CYAN} />
            <T x={lx + 6.5} y={532.7} s={4.8}>Low</T>
            <circle cx={lx + 3} cy={539} r={2} fill={R_RED} />
            <T x={lx + 6.5} y={539} s={4.8}>High</T>
            <T x={lx} y={544.5} s={5}>{b.tk}</T>
            {b.items.map(([l, c]: any, j: number) => (
              <g key={l}>
                <circle cx={lx + 3} cy={550.3 + j * 6} r={2} fill={c} />
                <T x={lx + 6.5} y={550.3 + j * 6} s={4.8}>{l}</T>
              </g>
            ))}
          </g>
        );
      })}
    </svg>
  );
}

export default function App() {
  return (
    <div style={{ position: "absolute", left: 0, top: 0, width: 669, height: 562, background: "#fff", overflow: "hidden" }}>
      <KMPanel dx={0} low={A_LOW} high={A_HIGH} lowCi={A_LOW_CI} highCi={A_HIGH_CI} lowCens={A_CENS_LOW} highCens={A_CENS_HIGH} med={A_MED} />
      <KMPanel dx={224} low={D_LOW} high={D_HIGH} lowCi={D_LOW_CI} highCi={D_HIGH_CI} lowCens={D_CENS_LOW} highCens={D_CENS_HIGH} med={D_MED} />
      <KMPanel dx={447} low={G_LOW} high={G_HIGH} lowCi={G_LOW_CI} highCi={G_HIGH_CI} lowCens={G_CENS_LOW} highCens={G_CENS_HIGH} med={G_MED} />
      <RiskTable dx={0} low={A_RISK_LOW} high={A_RISK_HIGH} />
      <RiskTable dx={224} low={D_RISK_LOW} high={D_RISK_HIGH} />
      <RiskTable dx={447} low={G_RISK_LOW} high={G_RISK_HIGH} />
      <CensorPlot dx={0} low={A_CENS_LOW} high={A_CENS_HIGH} yMax={2} />
      <CensorPlot dx={224} low={D_CENS_LOW} high={D_CENS_HIGH} yMax={2} />
      <CensorPlot dx={447} low={G_CENS_LOW} high={G_CENS_HIGH} yMax={1} />
      <ROCPanel dx={0} r1={B_365} r2={B_1095} r3={B_1825} />
      <ROCPanel dx={223} r1={E_365} r2={E_1095} r3={E_1825} />
      <ROCPanel dx={447} r1={H_365} r2={H_1095} r3={H_1825} />
      <RiskPlots bl={45} low={C_RISK_LOW} high={C_RISK_HIGH} rDom={[5, 9]} rTicks={[5, 6, 7, 8, 9]}
        tDom={[-158, 5817]} tTicks={[1000, 2000]} navy={C_ALIVE} teal={C_DEAD} heat={C_HEAT} heatMax={2.8} heatZero={4} />
      <RiskPlots bl={269} low={F_RISK_LOW} high={F_RISK_HIGH} rDom={[5, 9]} rTicks={[5, 6, 7, 8, 9]}
        tDom={[100, 2571]} tTicks={[500, 1000]} navy={F_EVENT} teal={F_NOEVENT} heat={F_HEAT} heatMax={2.8} heatZero={4} />
      <RiskPlots bl={492} low={I_RISK_LOW} high={I_RISK_HIGH} rDom={[2, 6]} rTicks={[2, 3, 4, 5, 6]}
        tDom={[-134, 7634]} tTicks={[1000, 2000, 3000]} navy={I_EVENT} teal={I_NOEVENT} heat={I_HEAT} heatMax={4.4} heatZero={3} />
      <Overlay />
    </div>
  );
}
